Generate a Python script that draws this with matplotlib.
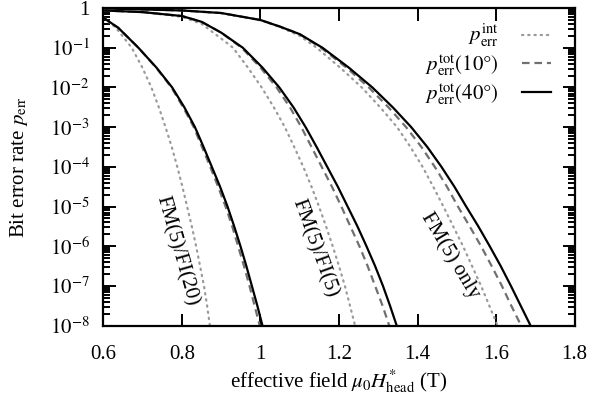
import matplotlib
matplotlib.use("Agg")
import matplotlib.pyplot as plt
from matplotlib.lines import Line2D
from matplotlib.ticker import LogLocator, FixedLocator, NullLocator

plt.rcParams['font.family'] = ['Liberation Serif', 'DejaVu Serif']
plt.rcParams['mathtext.fontset'] = 'stix'

# ---- data (x: effective field in T, p: bit error rate) ----
# error-rate levels (1e-1 down to 1e-8 in half decades)
levels = [1e-1, 3.16e-2, 1e-2, 3.16e-3, 1e-3, 3.16e-4, 1e-4, 3.16e-5,
          1e-5, 3.16e-6, 1e-6, 3.16e-7, 1e-7, 3.16e-8, 1e-8]

# FM(5)/FI(20)
a_top_x = [0.600, 0.638]
a_top_p = [0.57, 0.316]
a_int_top_x = [0.600, 0.632]
a_int_x = [0.672, 0.699, 0.722, 0.741, 0.758, 0.774, 0.788, 0.801, 0.813, 0.825, 0.836, 0.846, 0.856, 0.864, 0.871]
a_10_x = [0.689, 0.734, 0.773, 0.803, 0.830, 0.851, 0.872, 0.892, 0.911, 0.928, 0.943, 0.958, 0.972, 0.985, 0.998]
a_40_x = [0.689, 0.735, 0.775, 0.806, 0.833, 0.855, 0.876, 0.897, 0.916, 0.933, 0.949, 0.964, 0.978, 0.992, 1.005]

# FM(5)/FI(5)
b_top_x = [0.600, 0.700, 0.800, 0.850, 0.900]
b_top_p = [0.87, 0.79, 0.63, 0.45, 0.24]
b_int_top_p = [0.87, 0.79, 0.60, 0.40, 0.17]
b_int_x = [0.930, 0.968, 1.003, 1.034, 1.062, 1.086, 1.109, 1.130, 1.149, 1.167, 1.184, 1.200, 1.215, 1.228, 1.241]
b_10_x = [0.952, 1.000, 1.041, 1.075, 1.104, 1.130, 1.156, 1.182, 1.206, 1.229, 1.252, 1.273, 1.292, 1.311, 1.328]
b_40_x = [0.955, 1.005, 1.048, 1.084, 1.115, 1.143, 1.170, 1.197, 1.222, 1.247, 1.270, 1.292, 1.312, 1.330, 1.347]

# FM(5) only
c_top_x = [0.600, 0.800, 0.900, 1.000, 1.050, 1.100]
c_top_p = [0.98, 0.87, 0.75, 0.50, 0.34, 0.22]
c_int_top_p = [0.98, 0.87, 0.74, 0.49, 0.33, 0.20]
c_int_x = [1.143, 1.203, 1.258, 1.305, 1.348, 1.382, 1.413, 1.440, 1.466, 1.491, 1.516, 1.539, 1.562, 1.583, 1.604]
c_10_x = [1.154, 1.219, 1.276, 1.326, 1.371, 1.410, 1.444, 1.475, 1.503, 1.533, 1.562, 1.589, 1.615, 1.639, 1.664]
c_40_x = [1.158, 1.225, 1.285, 1.337, 1.384, 1.425, 1.461, 1.494, 1.524, 1.555, 1.584, 1.612, 1.638, 1.663, 1.688]

group_labels = ["FM(5)/FI(20)", "FM(5)/FI(5)", "FM(5) only"]
group_label_x = [0.787, 1.139, 1.483]
group_label_p = [7.6e-7, 8.9e-7, 6.0e-7]
group_label_rot = [-74, -70, -59]

legend_labels = [r"$p_{\rm err}^{\rm int}$", r"$p_{\rm err}^{\rm tot}(10°)$", r"$p_{\rm err}^{\rm tot}(40°)$"]

x_ticks = [0.6, 0.8, 1.0, 1.2, 1.4, 1.6, 1.8]
x_ticklabels = ["0.6", "0.8", "1", "1.2", "1.4", "1.6", "1.8"]
y_ticks = [1, 1e-1, 1e-2, 1e-3, 1e-4, 1e-5, 1e-6, 1e-7, 1e-8]
y_ticklabels = ["1", r"$10^{-1}$", r"$10^{-2}$", r"$10^{-3}$", r"$10^{-4}$",
                r"$10^{-5}$", r"$10^{-6}$", r"$10^{-7}$", r"$10^{-8}$"]

# ---- styles ----
s_int = dict(color="#9a9a9a", lw=1.6, linestyle=(0, (0.6, 2.2)), dash_capstyle="round")
s_10 = dict(color="#707070", lw=1.6, linestyle=(0, (3.4, 2.2)))
s_40 = dict(color="black", lw=1.6, linestyle="-")

fig = plt.figure(figsize=(5.89, 4.03), dpi=100)
ax = fig.add_axes([0.1757, 0.192, 0.7997, 0.788])

curves = [
    (a_int_top_x + a_int_x, a_top_p + levels, s_int),
    (a_top_x + a_10_x, a_top_p + levels, s_10),
    (a_top_x + a_40_x, a_top_p + levels, s_40),
    (b_top_x + b_int_x, b_int_top_p + levels, s_int),
    (b_top_x + b_10_x, b_top_p + levels, s_10),
    (b_top_x + b_40_x, b_top_p + levels, s_40),
    (c_top_x + c_int_x, c_int_top_p + levels, s_int),
    (c_top_x + c_10_x, c_top_p + levels, s_10),
    (c_top_x + c_40_x, c_top_p + levels, s_40),
]
for xs, ps, st in curves:
    ax.plot(xs, ps, solid_joinstyle="round", **st)

ax.set_yscale("log")
ax.set_xlim(0.6, 1.8)
ax.set_ylim(1e-8, 1)

ax.set_xticks(x_ticks)
ax.set_xticklabels(x_ticklabels)
ax.xaxis.set_minor_locator(NullLocator())
ax.yaxis.set_major_locator(FixedLocator(y_ticks))
ax.set_yticklabels(y_ticklabels)
ax.yaxis.set_minor_locator(LogLocator(base=10, subs=range(2, 10), numticks=20))

ax.tick_params(which="both", direction="in", top=True, right=True, labelsize=15, width=1.4)
ax.tick_params(which="major", length=9)
ax.tick_params(which="minor", length=5)
ax.tick_params(axis="x", which="major", pad=14)
ax.tick_params(axis="y", which="major", pad=10)
for sp in ax.spines.values():
    sp.set_linewidth(1.6)

ax.set_xlabel(r"effective field $\mu_0 H^{*}_{\rm head}$ (T)", fontsize=15, labelpad=3)
ax.set_ylabel(r"Bit error rate $p_{\rm err}$", fontsize=15, labelpad=14)

for lab, lx, lp, rot in zip(group_labels, group_label_x, group_label_p, group_label_rot):
    ax.text(lx, lp, lab, rotation=rot, rotation_mode="anchor", ha="center", va="center",
            fontsize=15)

handles = [Line2D([], [], **s_int), Line2D([], [], **s_10), Line2D([], [], **s_40)]
ax.legend(handles, legend_labels, loc="upper right", frameon=False, markerfirst=False,
          fontsize=15, handlelength=1.4, handletextpad=1.1, labelspacing=0.15,
          bbox_to_anchor=(0.977, 0.995), borderaxespad=0.2)

fig.savefig("out.png", dpi=100)
